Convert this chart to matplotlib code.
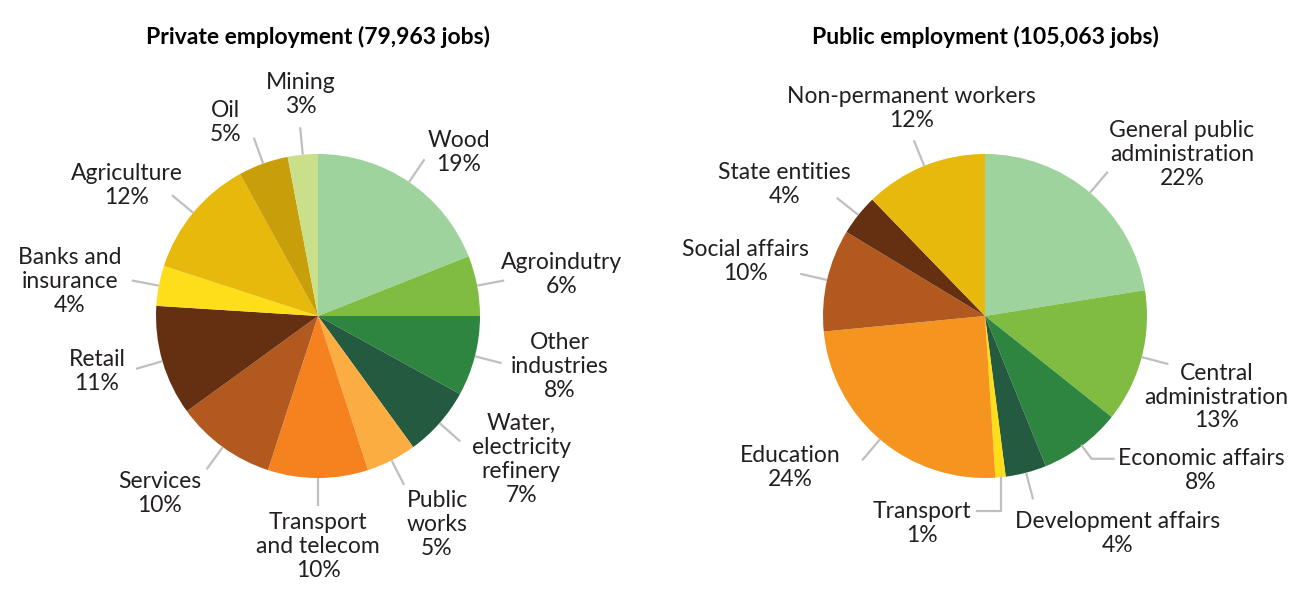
import numpy as np
import matplotlib.pyplot as plt

# --- data ---------------------------------------------------------------
priv_title = "Private employment (79,963 jobs)"
priv_labels = ["Wood", "Agroindutry", "Other\nindustries",
               "Water,\nelectricity\nrefinery", "Public\nworks",
               "Transport\nand telecom", "Services", "Retail",
               "Banks and\ninsurance", "Agriculture", "Oil", "Mining"]
priv_values = [19, 6, 8, 7, 5, 10, 10, 11, 4, 12, 5, 3]

pub_title = "Public employment (105,063 jobs)"
pub_labels = ["General public\nadministration", "Central\nadministration",
              "Economic affairs", "Development affairs", "Transport",
              "Education", "Social affairs", "State entities",
              "Non-permanent workers"]
pub_values = [22, 13, 8, 4, 1, 24, 10, 4, 12]

# --- styles -------------------------------------------------------------
priv_colors = ["#9fd39d", "#80bc42", "#2e8540", "#245b40", "#fbad42",
               "#f5821f", "#b1591e", "#652f12", "#fedd19", "#e7b90c",
               "#c89f0b", "#c9df8a"]
pub_colors = ["#9fd39d", "#80bc42", "#2e8540", "#245b40", "#fedd19",
              "#f5941f", "#b1591e", "#652f12", "#e7b90c"]

# label placement: (dx, dy) in pixels from the leader end, kind of leader
priv_layout = [(34, -7, "r"), (57, -6, "r"), (58, 3, "r"), (61, 18, "r"),
               (33, 40, "r"), (0, 41, "r"), (-47, 24, "r"), (-39, 3, "r"),
               (-62, 1, "r"), (-45, -10, "r"), (-28, -15, "r"), (1, -33, "r")]
pub_layout = [(74, -17, "r"), (48, 33, "r"), (4, 12, "elbow_r"),
              (84, 34, "r"), (-5, 12, "elbow_l"), (-72, 7, "r"),
              (-55, -12, "r"), (-52, -13, "r"), (-2, -32, "r")]

W, H = 1295, 601
R = 162
TXT = "#231f20"
LINE = "#bdbfc1"
FONT = "Lato"
LBL = dict(fontsize=16.5, family=FONT, color=TXT, linespacing=1.17,
           multialignment="center", va="center")

fig = plt.figure(figsize=(W / 100, H / 100), dpi=100, facecolor="white")
ax = fig.add_axes([0, 0, 1, 1])


def draw_pie(cx, cy, values, labels, colors, layout, title):
    ax.pie(values, colors=colors, center=(cx, cy), radius=R, startangle=90,
           counterclock=False, wedgeprops=dict(linewidth=0))
    ax.text(cx, H - 37, title, ha="center", va="center", fontsize=16.5,
            fontweight="bold", family=FONT, color="black")

    total = sum(values)
    cum = np.cumsum([0] + values) / total
    for i, lab in enumerate(labels):
        mid = np.radians((cum[i] + cum[i + 1]) / 2 * 360)
        s, c = np.sin(mid), np.cos(mid)
        text = f"{lab}\n{values[i]}%"
        dx, dy, kind = layout[i]
        x0, y0 = cx + R * s, cy + R * c
        if kind == "r":
            x1, y1 = cx + 1.17 * R * s, cy + 1.17 * R * c
            ax.plot([x0, x1], [y0, y1], color=LINE, lw=1.6,
                    solid_capstyle="butt")
            ax.text(x1 + dx, y1 - dy, text, ha="center", **LBL)
        elif kind == "elbow_r":
            xe, ye = cx + 1.1 * R * s, cy + 1.1 * R * c
            x1 = xe + 22
            ax.plot([x0, xe, x1], [y0, ye, ye], color=LINE, lw=1.6)
            ax.text(x1 + dx, ye - dy, text, ha="left", **LBL)
        else:
            ye = y0 - 34
            x1 = x0 - 24
            ax.plot([x0, x0, x1], [y0, ye, ye], color=LINE, lw=1.6)
            ax.text(x1 + dx, ye - dy, text, ha="right", **LBL)


draw_pie(318, H - 316, priv_values, priv_labels, priv_colors, priv_layout,
         priv_title)
draw_pie(985, H - 316, pub_values, pub_labels, pub_colors, pub_layout,
         pub_title)

ax.set_xlim(0, W)
ax.set_ylim(0, H)
ax.set_aspect("auto")
ax.set_axis_off()

fig.savefig("out.png", dpi=100, facecolor="white")
